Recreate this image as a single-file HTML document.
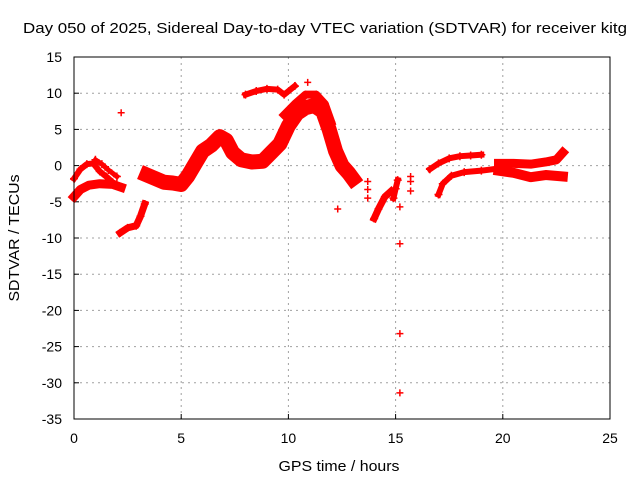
<!DOCTYPE html>
<html><head><meta charset="utf-8"><style>
body{margin:0;background:#fff}
svg{display:block;font-family:"Liberation Sans",sans-serif}
</style></head><body>
<svg id="chart" width="640" height="480">
<text x="325" y="33" text-anchor="middle" font-size="15" textLength="604" lengthAdjust="spacingAndGlyphs">Day 050 of 2025, Sidereal Day-to-day VTEC variation (SDTVAR) for receiver kitg</text>
<text x="339" y="471" text-anchor="middle" font-size="15" textLength="121" lengthAdjust="spacingAndGlyphs">GPS time / hours</text>
<text x="19" y="238" text-anchor="middle" font-size="15" textLength="127" lengthAdjust="spacingAndGlyphs" transform="rotate(-90 19 238)">SDTVAR / TECUs</text>
<g id="grid"></g><g id="ticks"></g><g id="marks"></g>
<rect x="74" y="57" width="536" height="362" fill="none" stroke="#000"/>
</svg>
<script>
const xTicks=[0,5,10,15,20,25];
const yTicks=[15,10,5,0,-5,-10,-15,-20,-25,-30,-35];
const trackLowerStart=[[0,-4.3],[0.3,-3.3],[0.7,-2.7],[1.2,-2.5],[1.8,-2.6],[2.2,-3.0]];
const trackUpperStart=[[0,-1.8],[0.3,-0.5],[0.6,0.2],[0.9,0.3],[1.2,-0.8],[1.5,-1.5],[1.8,-2.3],[2.0,-2.6]];
const trackUpperStart2=[[1.0,0.8],[1.3,0.2],[1.6,-0.6],[2.0,-1.5]];
const trackDip=[[2.15,-9.3],[2.5,-8.6],[2.9,-8.3],[3.1,-7],[3.3,-5.3]];
const trackMain=[[3.4,-1.3],[3.8,-1.8],[4.2,-2.3],[4.6,-2.4],[5.0,-2.6],[5.3,-1.5],[5.7,0.5],[6.0,2],[6.4,2.8],[6.8,4],[7.1,3.5],[7.4,1.8],[7.8,0.8],[8.3,0.5],[8.8,0.6],[9.2,1.8],[9.6,3],[10.0,5.5],[10.4,7.2],[10.8,8],[11.2,8.3],[11.6,7.5],[11.9,5],[12.2,2],[12.5,0],[12.8,-1],[13.0,-1.8]];
const trackMainUpper=[[9.8,7],[10.3,8.5],[10.8,9.8],[11.3,9.8],[11.7,8.5],[12.0,6]];
const trackTop=[[8.0,9.8],[8.5,10.3],[9.0,10.6],[9.5,10.5],[9.8,9.8],[10.3,11]];
const trackRecovery=[[14.0,-7.3],[14.2,-6],[14.5,-4.3],[14.8,-3.5]];
const trackRecovery2=[[14.9,-4.5],[15.0,-3.2],[15.1,-2]];
const trackEveningUpper=[[16.6,-0.5],[17.0,0.3],[17.5,1.0],[18.0,1.3],[18.5,1.4],[19.0,1.5]];
const trackEveningLower=[[17.0,-4],[17.2,-2.5],[17.6,-1.4],[18.2,-0.9],[19.0,-0.7],[19.8,-0.4]];
const trackNightUpper=[[19.8,0.3],[20.5,0.3],[21.3,0.2],[22,0.5],[22.5,0.8],[22.8,1.8]];
const trackNightLower=[[19.8,-0.7],[20.5,-1],[21.3,-1.6],[22,-1.3],[22.8,-1.5]];
const isolatedPoints=[[2.2,7.3],[10.9,11.5],[12.3,-6],[13.7,-2.2],[13.7,-3.3],[13.7,-4.5],[15.2,-10.8],[15.2,-23.2],[15.2,-31.4],[15.7,-1.5],[15.7,-2.2],[15.7,-3.5],[15.2,-5.7]];

const X=h=>74+h*536/25, Y=v=>57+(15-v)*362/50;
const NS="http://www.w3.org/2000/svg";
const mk=(t,p,a)=>{const e=document.createElementNS(NS,t);for(const k in a)e.setAttribute(k,a[k]);p.appendChild(e);return e;};
const grid=document.getElementById('grid'),ticks=document.getElementById('ticks'),marks=document.getElementById('marks');
xTicks.forEach(t=>{
 if(t>0&&t<25){const l=mk('line',grid,{x1:X(t),x2:X(t),y1:57,y2:419,stroke:'#a0a0a0','stroke-dasharray':'2,4'});
 
 }
 const tk=mk('line',ticks,{x1:X(t),x2:X(t),y1:419,y2:414,stroke:'#000'});
 
 
 const tx=mk('text',ticks,{x:X(t),y:443,'text-anchor':'middle','font-size':14});tx.textContent=t;
 
 
});
yTicks.forEach(t=>{
 if(t<15&&t>-35){const l=mk('line',grid,{x1:74,x2:610,y1:Y(t),y2:Y(t),stroke:'#a0a0a0','stroke-dasharray':'2,4'});
 
 }
 const tk=mk('line',ticks,{x1:74,x2:79,y1:Y(t),y2:Y(t),stroke:'#000'});
 
 
 const tx=mk('text',ticks,{x:62,y:Y(t)+5,'text-anchor':'end','font-size':14});tx.textContent=t;
 
 
});
function plus(h,v,s){const x=X(h),y=Y(v);
 const p=mk('path',marks,{d:`M${x-s} ${y}H${x+s}M${x} ${y-s}V${y+s}`,stroke:'#f00','stroke-width':1.5});
 
 }
function track(arr,w,name){
 const pl=mk('polyline',marks,{points:arr.map(p=>X(p[0])+','+Y(p[1])).join(' '),fill:'none',stroke:'#f00','stroke-width':w,'stroke-linejoin':'round','stroke-linecap':'square'});
 
 
 arr.forEach(p=>plus(p[0],p[1],4));
}
track(trackLowerStart,9,'track-lower-start');
track(trackUpperStart,6,'track-upper-start');
track(trackUpperStart2,5,'track-upper-start-2');
track(trackDip,7,'track-dip');
track(trackMain,15,'track-main');
track(trackMainUpper,8,'track-main-upper');
track(trackTop,6,'track-top');
track(trackRecovery,7,'track-recovery');
track(trackRecovery2,6,'track-recovery-2');
track(trackEveningUpper,6,'track-evening-upper');
track(trackEveningLower,6,'track-evening-lower');
track(trackNightUpper,9,'track-night-upper');
track(trackNightLower,10,'track-night-lower');
isolatedPoints.forEach(p=>plus(p[0],p[1],3.5));
</script>
</body></html>
